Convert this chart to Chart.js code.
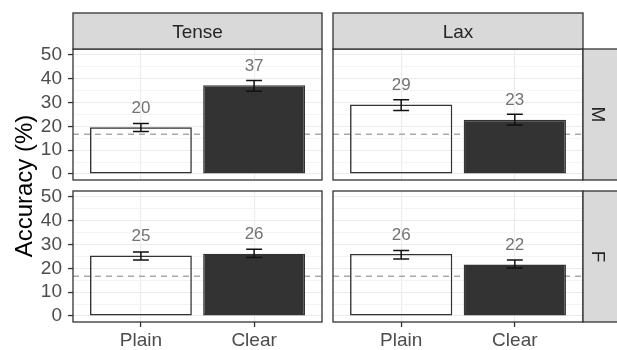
<!DOCTYPE html>
<html>
<head>
<meta charset="utf-8">
<script src="https://cdn.jsdelivr.net/npm/chart.js@4.4.0/dist/chart.umd.min.js"></script>
<style>
  html, body { margin: 0; padding: 0; background: #fff; }
  #wrap { position: relative; width: 617px; height: 350px; overflow: hidden; background: #fff; }
  #wrap canvas { position: absolute; left: 0; top: 0; }
</style>
</head>
<body>
<div id="wrap">
  <canvas id="tenseM" width="617" height="350"></canvas>
  <canvas id="laxM" width="617" height="350"></canvas>
  <canvas id="tenseF" width="617" height="350"></canvas>
  <canvas id="laxF" width="617" height="350"></canvas>
</div>
<script>
// categories
const conditions = ['Plain', 'Clear'];
const vowelTypes = ['Tense', 'Lax'];
const speakers = ['M', 'F'];

// y grid positions (labelled every 10)
const yTicks = [0, 5, 10, 15, 20, 25, 30, 35, 40, 45, 50];

// mean accuracy (%) with lower / upper error bar ends, one set per panel
const tenseM = [19.6, 37.3];
const tenseMLow = [17.9, 34.8];
const tenseMHigh = [21.2, 39.3];

const laxM = [29.2, 22.8];
const laxMLow = [26.7, 20.6];
const laxMHigh = [31.2, 25.1];

const tenseF = [25.4, 26.2];
const tenseFLow = [23.5, 24.6];
const tenseFHigh = [26.9, 28.0];

const laxF = [26.1, 21.6];
const laxFLow = [24.0, 20.2];
const laxFHigh = [27.5, 23.5];

// chance level (1 in 6)
const chanceLevel = 100 / 6;

Chart.defaults.font.family = "'Liberation Sans', Arial, sans-serif";

const STRIP = 36;
const TICK_COLOR = '#4d4d4d';
const AXIS_COLOR = '#333333';

// draws the ggplot-like decorations of one panel
const panelDecor = {
    id: 'panelDecor',
    beforeDatasetsDraw(chart) {
        const { ctx, chartArea, scales } = chart;
        const y = scales.y.getPixelForValue(chanceLevel);
        ctx.save();
        ctx.strokeStyle = '#a9a9a9';
        ctx.lineWidth = 1.5;
        ctx.setLineDash([6, 5]);
        ctx.beginPath();
        ctx.moveTo(chartArea.left, y);
        ctx.lineTo(chartArea.right, y);
        ctx.stroke();
        ctx.restore();
    },
    afterDatasetsDraw(chart, args, opts) {
        const { ctx, chartArea, scales } = chart;
        const x = scales.x, yS = scales.y;
        ctx.save();

        // error bars
        ctx.strokeStyle = '#111';
        ctx.lineWidth = 1.5;
        opts.means.forEach((m, i) => {
            const cx = x.getPixelForValue(i + 1);
            const x0 = x.getPixelForValue(i + 1 - 0.07);
            const x1 = x.getPixelForValue(i + 1 + 0.07);
            const lo = yS.getPixelForValue(opts.low[i]);
            const hi = yS.getPixelForValue(opts.high[i]);
            ctx.beginPath();
            ctx.moveTo(cx, lo); ctx.lineTo(cx, hi);
            ctx.moveTo(x0, lo); ctx.lineTo(x1, lo);
            ctx.moveTo(x0, hi); ctx.lineTo(x1, hi);
            ctx.stroke();
        });

        // value labels
        ctx.fillStyle = '#737373';
        ctx.font = "17px 'Liberation Sans', Arial, sans-serif";
        ctx.textAlign = 'center';
        ctx.textBaseline = 'middle';
        opts.means.forEach((m, i) => {
            ctx.fillText(String(Math.round(m)), x.getPixelForValue(i + 1), yS.getPixelForValue(m + 8));
        });

        // panel border
        const w = chartArea.right - chartArea.left, h = chartArea.bottom - chartArea.top;
        ctx.strokeStyle = AXIS_COLOR;
        ctx.lineWidth = 1.3;
        ctx.strokeRect(chartArea.left, chartArea.top, w, h);

        // strips
        ctx.font = "19px 'Liberation Sans', Arial, sans-serif";
        if (opts.topStrip) {
            ctx.fillStyle = '#d9d9d9';
            ctx.fillRect(chartArea.left, chartArea.top - STRIP, w, STRIP);
            ctx.strokeRect(chartArea.left, chartArea.top - STRIP, w, STRIP);
            ctx.fillStyle = '#262626';
            ctx.fillText(opts.topStrip, chartArea.left + w / 2, chartArea.top - STRIP / 2 + 2);
        }
        if (opts.rightStrip) {
            ctx.fillStyle = '#d9d9d9';
            ctx.fillRect(chartArea.right, chartArea.top, STRIP, h);
            ctx.strokeRect(chartArea.right, chartArea.top, STRIP, h);
            ctx.fillStyle = '#262626';
            ctx.translate(chartArea.right + STRIP / 2 - 4, chartArea.top + h / 2);
            ctx.rotate(Math.PI / 2);
            ctx.fillText(opts.rightStrip, 0, 0);
            ctx.setTransform(1, 0, 0, 1, 0, 0);
        }

        // shared y axis title
        if (opts.yTitle) {
            ctx.fillStyle = '#000';
            ctx.font = "24px 'Liberation Sans', Arial, sans-serif";
            ctx.translate(opts.yTitle.x, opts.yTitle.y);
            ctx.rotate(-Math.PI / 2);
            ctx.fillText(opts.yTitle.text, 0, 0);
        }
        ctx.restore();
    }
};

function makePanel(canvasId, means, low, high, col, row) {
    const leftCol = col === 0;
    const bottomRow = row === 1;
    const ctx = document.getElementById(canvasId).getContext('2d');
    return new Chart(ctx, {
        type: 'bar',
        data: {
            datasets: [{
                data: conditions.map((c, i) => ({ x: i + 1, y: means[i] })),
                backgroundColor: ['rgba(0,0,0,0)', '#333333'],
                borderColor: ['#333333', '#333333'],
                borderWidth: 1.4,
                borderSkipped: false,
                categoryPercentage: 0.9,
                barPercentage: 1.0
            }]
        },
        options: {
            responsive: false,
            animation: false,
            events: [],
            layout: {
                padding: {
                    left: leftCol ? 0 : 333,
                    right: leftCol ? 295 : 34,
                    top: bottomRow ? 191 : 49,
                    bottom: bottomRow ? 0 : 170
                }
            },
            scales: {
                x: {
                    type: 'linear',
                    min: 0.4,
                    max: 2.6,
                    offset: false,
                    border: { display: false },
                    grid: {
                        offset: false,
                        color: '#ebebeb',
                        lineWidth: 1.1,
                        drawTicks: bottomRow,
                        tickLength: 5,
                        tickColor: AXIS_COLOR,
                        tickWidth: 1.3
                    },
                    ticks: {
                        display: bottomRow,
                        autoSkip: false,
                        maxRotation: 0,
                        padding: 2,
                        color: TICK_COLOR,
                        font: { size: 19 },
                        callback: v => conditions[v - 1] || ''
                    },
                    afterBuildTicks: s => { s.ticks = conditions.map((c, i) => ({ value: i + 1 })); },
                    afterFit: s => { s.height = bottomRow ? 28 : 0; }
                },
                y: {
                    min: -2.5,
                    max: 52.5,
                    border: { display: false },
                    grid: {
                        color: c => c.tick.value % 10 === 0 ? '#ebebeb' : '#f3f3f3',
                        lineWidth: c => c.tick.value % 10 === 0 ? 1.1 : 0.9,
                        drawTicks: leftCol,
                        tickLength: 5,
                        tickColor: c => c.tick.value % 10 === 0 ? AXIS_COLOR : 'rgba(0,0,0,0)',
                        tickWidth: 1.3
                    },
                    ticks: {
                        display: leftCol,
                        autoSkip: false,
                        padding: 6,
                        color: TICK_COLOR,
                        font: { size: 19, lineHeight: 1 },
                        callback: v => v % 10 === 0 ? String(v) : ''
                    },
                    afterBuildTicks: s => { s.ticks = yTicks.map(v => ({ value: v })); },
                    afterFit: s => { s.width = leftCol ? 73 : 0; }
                }
            },
            plugins: {
                legend: { display: false },
                tooltip: { enabled: false },
                panelDecor: {
                    means, low, high,
                    topStrip: row === 0 ? vowelTypes[col] : null,
                    rightStrip: col === 1 ? speakers[row] : null,
                    yTitle: (col === 0 && row === 0) ? { text: 'Accuracy (%)', x: 25, y: 186 } : null
                }
            }
        },
        plugins: [panelDecor]
    });
}

makePanel('tenseM', tenseM, tenseMLow, tenseMHigh, 0, 0);
makePanel('laxM', laxM, laxMLow, laxMHigh, 1, 0);
makePanel('tenseF', tenseF, tenseFLow, tenseFHigh, 0, 1);
makePanel('laxF', laxF, laxFLow, laxFHigh, 1, 1);
</script>
</body>
</html>
